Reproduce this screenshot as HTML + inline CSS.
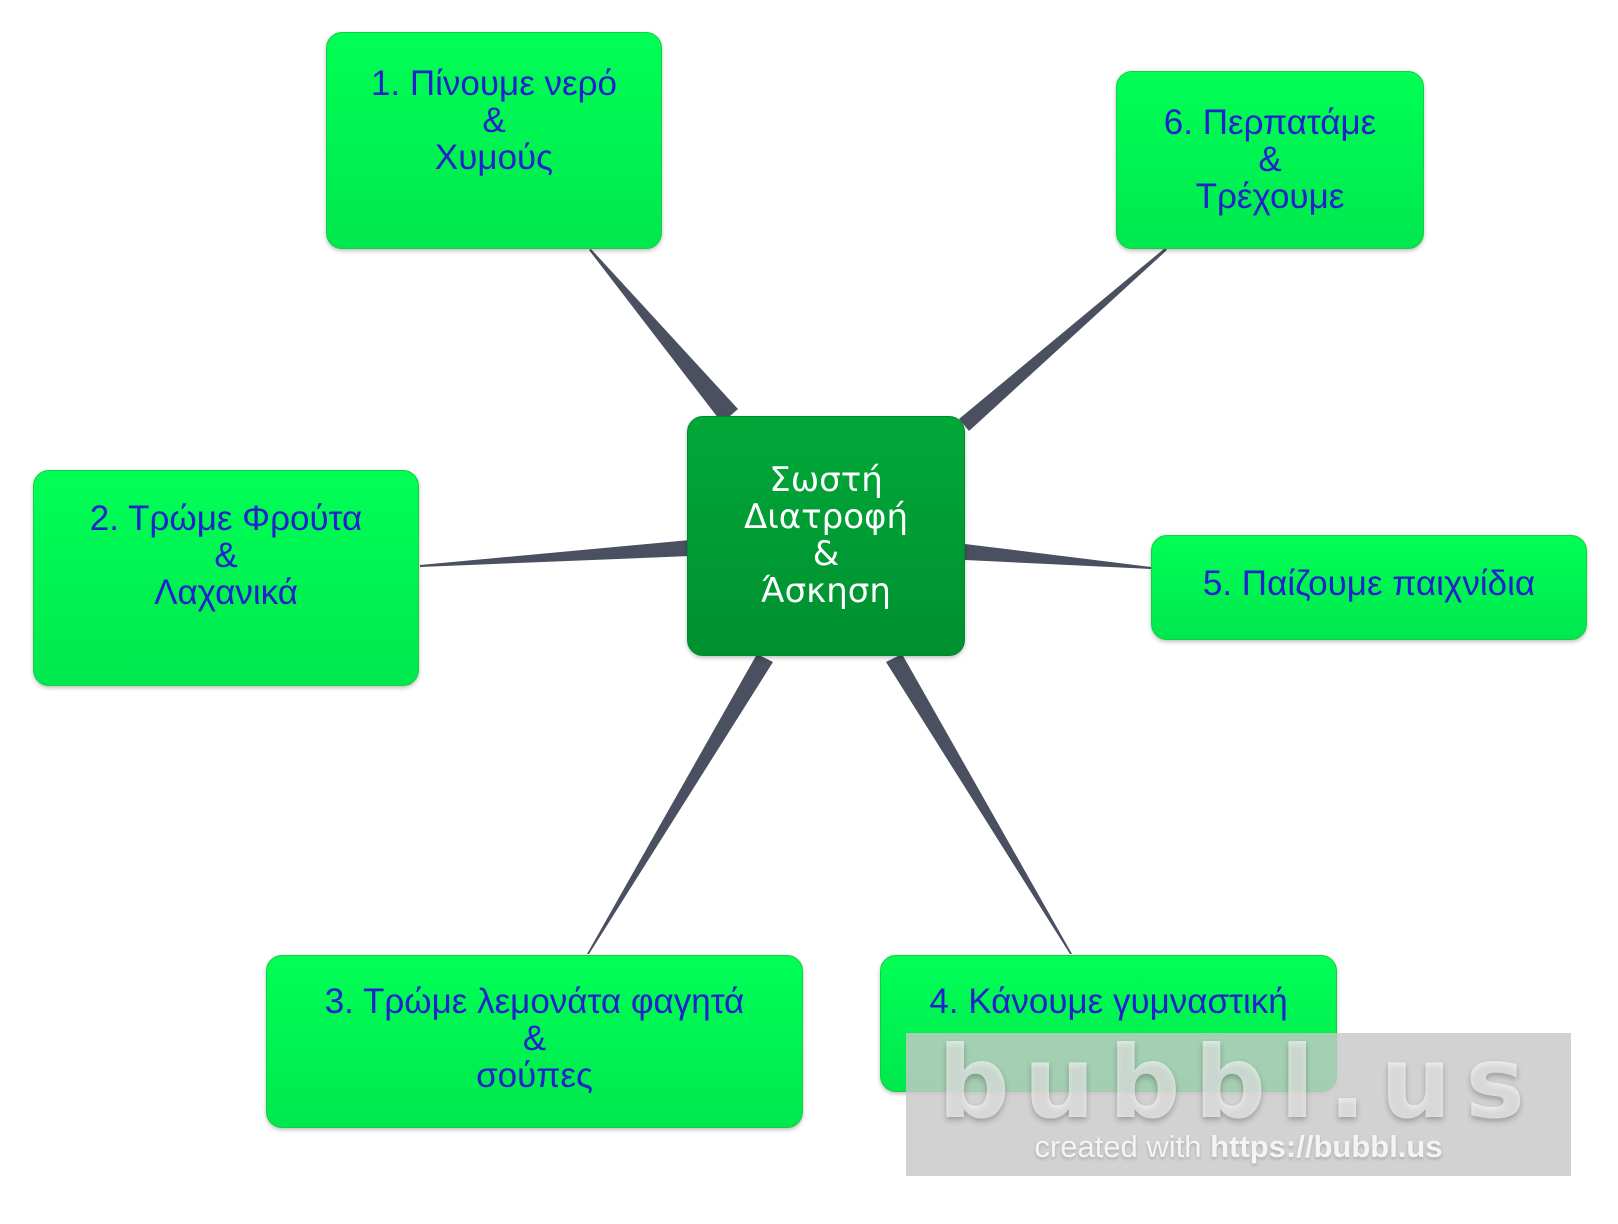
<!DOCTYPE html>
<html><head><meta charset="utf-8"><style>
body{margin:0;width:1618px;height:1224px;background:#fff;position:relative;overflow:hidden;font-family:"Liberation Sans","DejaVu Sans",sans-serif}
.b{position:absolute;box-sizing:border-box;border-radius:16px;background:linear-gradient(#00ff55,#00e84e);border:1px solid #10d040;box-shadow:0 2px 4px rgba(0,0,0,.25);color:#2222cc;font-size:35px;line-height:37px;text-align:center;display:flex;align-items:center;justify-content:center}
.c{background:linear-gradient(#00a838,#009030);color:#fff;border-color:#008a2e;font-family:"DejaVu Sans",sans-serif;font-size:34px}
svg{position:absolute;left:0;top:0}
.wm{position:absolute;left:906px;top:1033px;width:665px;height:143px;background:rgba(200,200,200,.82);text-align:center}
</style></head><body>
<svg width="1618" height="1224">
<g fill="#4a5060">
<polygon points="722,423 738,409 591,249 589,250"/>
<polygon points="969,431 959,419 1165,248 1167,250"/>
<polygon points="690,540 690,556 420,567 420,565"/>
<polygon points="965,544 965,560 1151,569 1151,567"/>
<polygon points="757,654 773,662 589,954 587,954"/>
<polygon points="886,662 902,654 1072,954 1070,954"/>
</g></svg>
<div class="b" style="left:326px;top:32px;width:336px;height:217px;padding-bottom:41px">1. Πίνουμε νερό<br>&amp;<br>Χυμούς</div>
<div class="b" style="left:1116px;top:71px;width:308px;height:178px;padding-bottom:2px">6. Περπατάμε<br>&amp;<br>Τρέχουμε</div>
<div class="b" style="left:33px;top:470px;width:386px;height:216px;padding-bottom:45px">2. Τρώμε Φρούτα<br>&amp;<br>Λαχανικά</div>
<div class="b" style="left:1151px;top:535px;width:436px;height:105px;padding-bottom:8px">5. Παίζουμε παιχνίδια</div>
<div class="b" style="left:266px;top:955px;width:537px;height:173px;padding-bottom:6px">3. Τρώμε λεμονάτα φαγητά<br>&amp;<br>σούπες</div>
<div class="b" style="left:880px;top:955px;width:457px;height:137px;padding-bottom:44px">4. Κάνουμε γυμναστική</div>
<div class="b c" style="left:687px;top:416px;width:278px;height:240px;padding-bottom:0px">Σωστή<br>Διατροφή<br>&amp;<br>Άσκηση</div>
<div class="wm"><div style="font-family:'DejaVu Sans',sans-serif;font-weight:bold;font-size:100px;line-height:96px;color:rgba(255,255,255,.6);letter-spacing:14px;margin-top:2px;text-shadow:0 3px 6px rgba(0,0,0,.25)">bubbl.us</div>
<div style="font-size:31px;color:#f4f4f4;margin-top:-2px;text-shadow:0 2px 3px rgba(0,0,0,.2)">created with <b>https://bubbl.us</b></div></div>
</body></html>
